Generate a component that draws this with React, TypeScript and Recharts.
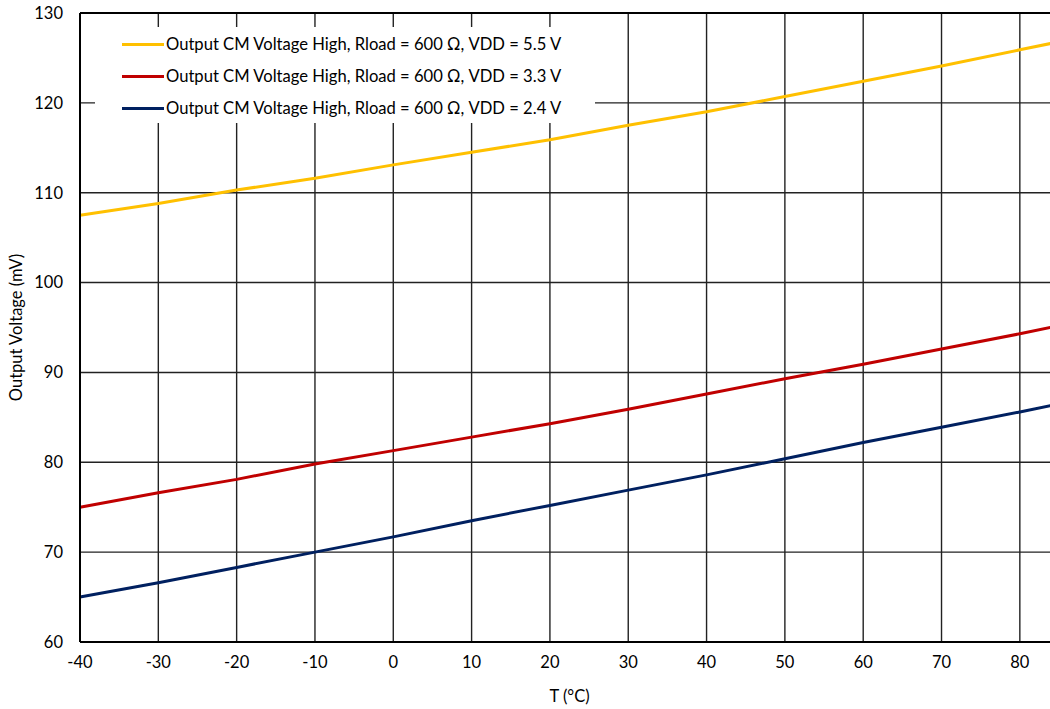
import React from "react";
import { LineChart, Line, XAxis, YAxis, CartesianGrid, Legend, ReferenceLine } from "recharts";

const temps = [-40, -30, -20, -10, 0, 10, 20, 30, 40, 50, 60, 70, 80, 85];
const vdd55 = [107.5, 108.8, 110.3, 111.6, 113.1, 114.5, 115.9, 117.5, 119.0, 120.7, 122.4, 124.1, 125.9, 126.8];
const vdd33 = [75.0, 76.6, 78.1, 79.8, 81.3, 82.8, 84.3, 85.9, 87.6, 89.3, 90.9, 92.6, 94.3, 95.2];
const vdd24 = [65.0, 66.6, 68.3, 70.0, 71.7, 73.5, 75.2, 76.9, 78.6, 80.4, 82.2, 83.9, 85.6, 86.5];
const xTicks = [-40, -30, -20, -10, 0, 10, 20, 30, 40, 50, 60, 70, 80];
const yTicks = [60, 70, 80, 90, 100, 110, 120, 130];
const seriesNames = [
  "Output CM Voltage High, Rload = 600 Ω, VDD = 5.5 V",
  "Output CM Voltage High, Rload = 600 Ω, VDD = 3.3 V",
  "Output CM Voltage High, Rload = 600 Ω, VDD = 2.4 V",
];
const seriesColors = ["#FFC000", "#C00000", "#002060"];

const data = temps.map((t, i) => ({ t, a: vdd55[i], b: vdd33[i], c: vdd24[i] }));

const FONT = "Lato, 'Open Sans', sans-serif";

const LegendBox = () => (
  <div style={{ background: "#fff", padding: "1px 0 0 27px", boxSizing: "border-box", width: "100%", height: "100%" }}>
    {seriesNames.map((n, i) => (
      <div key={n} style={{ display: "flex", alignItems: "center", height: 32 }}>
        <div style={{ width: 42, height: 3, background: seriesColors[i], marginRight: 2 }} />
        <span style={{ fontFamily: FONT, fontSize: 16.6, color: "#000", whiteSpace: "nowrap" }}>{n}</span>
      </div>
    ))}
  </div>
);

export default function App() {
  return (
    <div style={{ position: "absolute", left: 0, top: 0, width: 1050, height: 709, overflow: "hidden", background: "#fff" }}>
      <LineChart width={1059} height={709} data={data} margin={{ top: 13, right: 0, bottom: 0, left: 0 }}>
        <CartesianGrid stroke="#222" strokeWidth={1.4} ticks={yTicks as any} />
        <XAxis
          dataKey="t"
          type="number"
          domain={[-40, 85]}
          ticks={xTicks}
          tickSize={0}
          tickMargin={14}
          axisLine={{ stroke: "#000", strokeWidth: 2 }}
          tick={{ fill: "#000", fontSize: 16.5, fontFamily: FONT }}
          label={{ value: "T (°C)", position: "insideBottom", offset: 0, dy: -7, fill: "#000", fontSize: 16.5, fontFamily: FONT } as any}
          height={67}
        />
        <YAxis
          type="number"
          domain={[60, 130]}
          ticks={yTicks}
          tickSize={0}
          tickMargin={17}
          width={80}
          axisLine={{ stroke: "#000", strokeWidth: 2 }}
          tick={{ fill: "#000", fontSize: 16.5, fontFamily: FONT }}
          label={{ value: "Output Voltage (mV)", angle: -90, position: "insideLeft", offset: 16, style: { textAnchor: "middle" }, fill: "#000", fontSize: 16.5, fontFamily: FONT } as any}
        />
        <ReferenceLine y={130} stroke="#000" strokeWidth={2} />
        <Legend
          layout="vertical"
          align="center"
          verticalAlign="middle"
          content={<LegendBox />}
          wrapperStyle={{ left: 95, top: 27, width: 500, height: 96 }}
        />
        <Line dataKey="a" name={seriesNames[0]} stroke={seriesColors[0]} strokeWidth={3} dot={false} isAnimationActive={false} />
        <Line dataKey="b" name={seriesNames[1]} stroke={seriesColors[1]} strokeWidth={3} dot={false} isAnimationActive={false} />
        <Line dataKey="c" name={seriesNames[2]} stroke={seriesColors[2]} strokeWidth={3} dot={false} isAnimationActive={false} />
      </LineChart>
    </div>
  );
}
